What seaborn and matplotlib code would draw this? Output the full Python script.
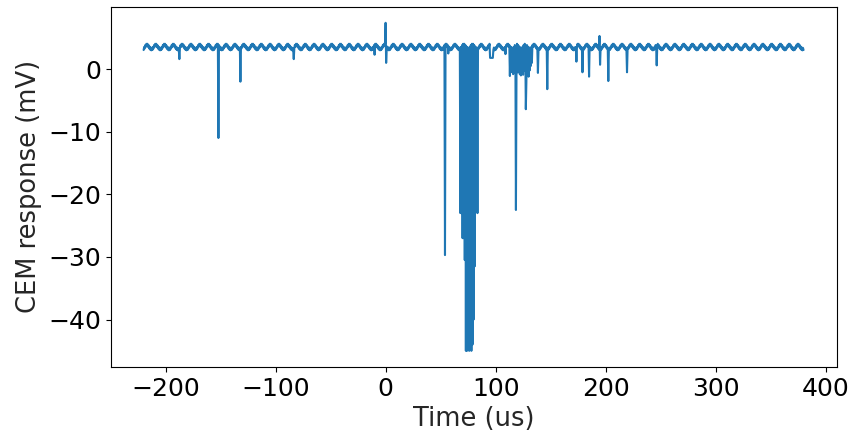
import numpy as np
import pandas as pd
import matplotlib
matplotlib.use("Agg")
import matplotlib.pyplot as plt
import seaborn as sns

# ---- data ----
t_start, t_end, t_step = -220.0, 380.0, 0.5

# one period (8 us) of the noisy baseline ripple, sampled every 0.5 us
ripple_pattern = [3.05, 3.55, 3.3, 3.85, 3.55, 4.05, 3.7, 4.05,
                  3.55, 3.85, 3.3, 3.6, 3.1, 3.45, 3.0, 3.4]

# isolated spikes (time in us, value in mV)
spike_times = [-187.5, -152.0, -132.0, -83.5, -10.0, 0.0, 0.5,
               54.0, 57.0, 95.0, 95.5, 96.0, 96.5, 97.0, 97.5,
               109.0, 138.5, 147.0, 173.5, 179.0, 185.0, 194.5, 195.0,
               202.5, 219.5, 246.5]
spike_values = [1.6, -11.0, -2.0, 1.6, 2.3, 7.4, 1.0,
                -29.7, 2.5, 1.8, 1.8, 1.8, 1.8, 1.8, 1.8,
                2.4, -0.6, -3.2, 1.2, -0.5, -1.2, 5.3, 0.7,
                -1.9, -0.5, 0.6]

# main burst
burst1_times = [68, 69, 70, 71, 72, 73, 74, 75, 76, 77, 78, 79, 80, 81, 82, 83.5]
burst1_values = [-23.0, -23.0, -27.0, -27.0, -30.5, -45.0, -45.0, -44.5,
                 -45.0, -44.5, -45.0, -44.0, -40.0, -31.5, -20.0, -23.0]

# second, weaker burst
burst2_times = [113, 114, 115, 116, 117, 118.5, 119, 120, 121, 122, 123,
                124, 125, 126, 127.5, 128, 129, 130, 131, 132, 133]
burst2_values = [-1.1, -0.5, 0.0, -0.8, -0.3, -22.5, -1.0, -0.5, 0.2, -0.8,
                 -1.0, -0.4, -0.9, -0.3, -6.4, -2.1, -0.6, -1.2, -0.2, 0.5, 1.0]

# ---- build the trace ----
times = np.round(np.arange(t_start, t_end + t_step / 2, t_step), 2)
values = np.resize(np.array(ripple_pattern), len(times)).astype(float)
for ts, vs in [(spike_times, spike_values), (burst1_times, burst1_values),
               (burst2_times, burst2_values)]:
    for t, v in zip(ts, vs):
        idx = int(round((t - t_start) / t_step))
        values[idx] = v

df = pd.DataFrame({"Time (us)": times, "CEM response (mV)": values})

sns.set_style("ticks")
plt.rcParams["font.family"] = ["DejaVu Sans"]

fig = plt.figure(figsize=(8.51, 4.36), dpi=100)
ax = fig.add_axes([0.130, 0.158, 0.853, 0.827])
sns.lineplot(data=df, x="Time (us)", y="CEM response (mV)", ax=ax,
             color="#1f77b4", linewidth=1.5, estimator=None)

for s in ax.spines.values():
    s.set_color("black")
    s.set_linewidth(0.8)
ax.tick_params(labelsize=18, colors="black", length=3.5, width=0.8)
ax.set_xlabel("Time (us)", fontsize=18.5)
ax.set_ylabel("CEM response (mV)", fontsize=18.5)
ax.set_xticks([-200, -100, 0, 100, 200, 300, 400])
ax.set_yticks([-40, -30, -20, -10, 0])
ax.set_xlim(-250, 410)
ax.set_ylim(-47.6, 10.0)

fig.savefig("out.png", dpi=100)
